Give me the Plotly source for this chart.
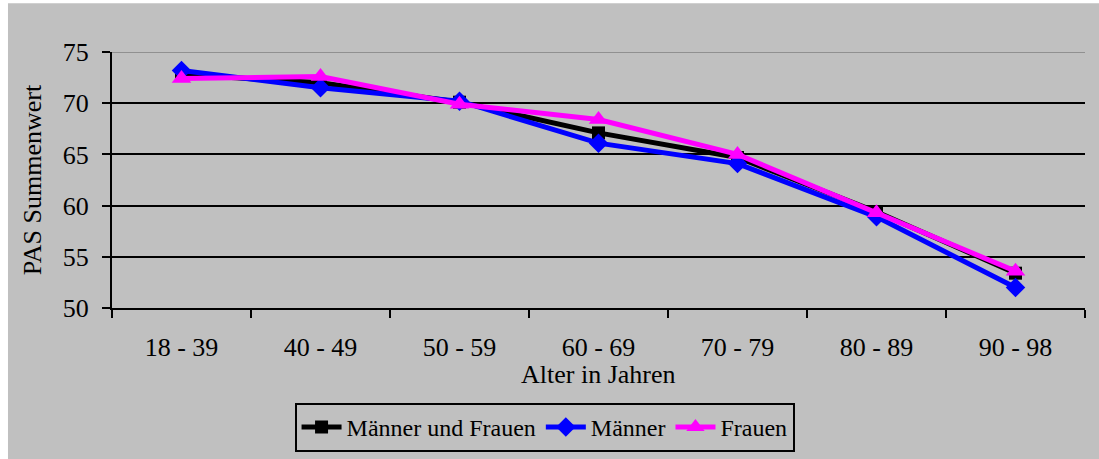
import plotly.graph_objects as go

categories = ["18 - 39", "40 - 49", "50 - 59", "60 - 69", "70 - 79", "80 - 89", "90 - 98"]
maenner_und_frauen = [72.8, 72.0, 70.1, 67.1, 64.7, 59.4, 53.4]
maenner = [73.2, 71.5, 70.2, 66.1, 64.1, 58.9, 52.0]
frauen = [72.4, 72.6, 69.9, 68.4, 65.0, 59.3, 53.6]
y_ticks = [50, 55, 60, 65, 70, 75]
x_title = "Alter in Jahren"
y_title = "PAS Summenwert"

FONT = "'Liberation Serif', 'Times New Roman', serif"
GRAY = "#C0C0C0"

fig = go.Figure()
fig.add_trace(go.Scatter(x=categories, y=maenner_und_frauen, name="Männer und Frauen",
                         mode="lines+markers", line=dict(color="black", width=5),
                         marker=dict(symbol="square", size=13, color="black")))
fig.add_trace(go.Scatter(x=categories, y=maenner, name="Männer",
                         mode="lines+markers", line=dict(color="#0000FF", width=5),
                         marker=dict(symbol="diamond", size=15, color="#0000FF")))
fig.add_trace(go.Scatter(x=categories, y=frauen, name="Frauen",
                         mode="lines+markers", line=dict(color="#FF00FF", width=5),
                         marker=dict(symbol="triangle-up", size=17, color="#FF00FF")))

# top border of plot area (gray)
fig.add_shape(type="line", xref="paper", yref="y", x0=0, x1=1, y0=75, y1=75,
              line=dict(color="#909090", width=2), layer="above")
# white strips at left/top edge of page
fig.add_shape(type="rect", xref="paper", yref="paper", x0=-0.2, x1=-0.1069, y0=-1, y1=2,
              fillcolor="white", line=dict(width=0), layer="below")
fig.add_shape(type="rect", xref="paper", yref="paper", x0=-0.2, x1=1.2, y0=1.19, y1=2,
              fillcolor="white", line=dict(width=0), layer="below")

fig.add_annotation(text=x_title, xref="paper", yref="paper", x=0.5, y=-0.258,
                   xanchor="center", yanchor="middle", showarrow=False,
                   font=dict(family=FONT, size=26, color="black"))

fig.update_layout(
    width=1099, height=459,
    margin=dict(l=112, r=14, t=52, b=151, autoexpand=False),
    paper_bgcolor=GRAY, plot_bgcolor=GRAY,
    font=dict(family=FONT, size=26, color="black"),
    showlegend=True,
    legend=dict(orientation="h", xref="container", yref="container",
                x=0.4955, xanchor="center", y=0.122, yanchor="top",
                bgcolor=GRAY, bordercolor="black", borderwidth=2,
                font=dict(family=FONT, size=24, color="black"),
                itemwidth=40, tracegroupgap=0),
    xaxis=dict(type="category", range=[-0.5, 6.5], showgrid=False, automargin=False,
               showline=True, linecolor="black", linewidth=2,
               ticks="outside", ticklen=8, tickwidth=2, tickcolor="black",
               tickson="boundaries", ticklabelstandoff=15),
    yaxis=dict(range=[50, 75], tickvals=y_ticks, showgrid=True, gridcolor="black", gridwidth=2,
               showline=True, linecolor="black", linewidth=2, automargin=False,
               ticks="outside", ticklen=8, tickwidth=2, tickcolor="black",
               zeroline=False, ticklabelstandoff=8,
               title=dict(text=y_title, standoff=14, font=dict(family=FONT, size=26))),
)

fig.write_html("out.html")
